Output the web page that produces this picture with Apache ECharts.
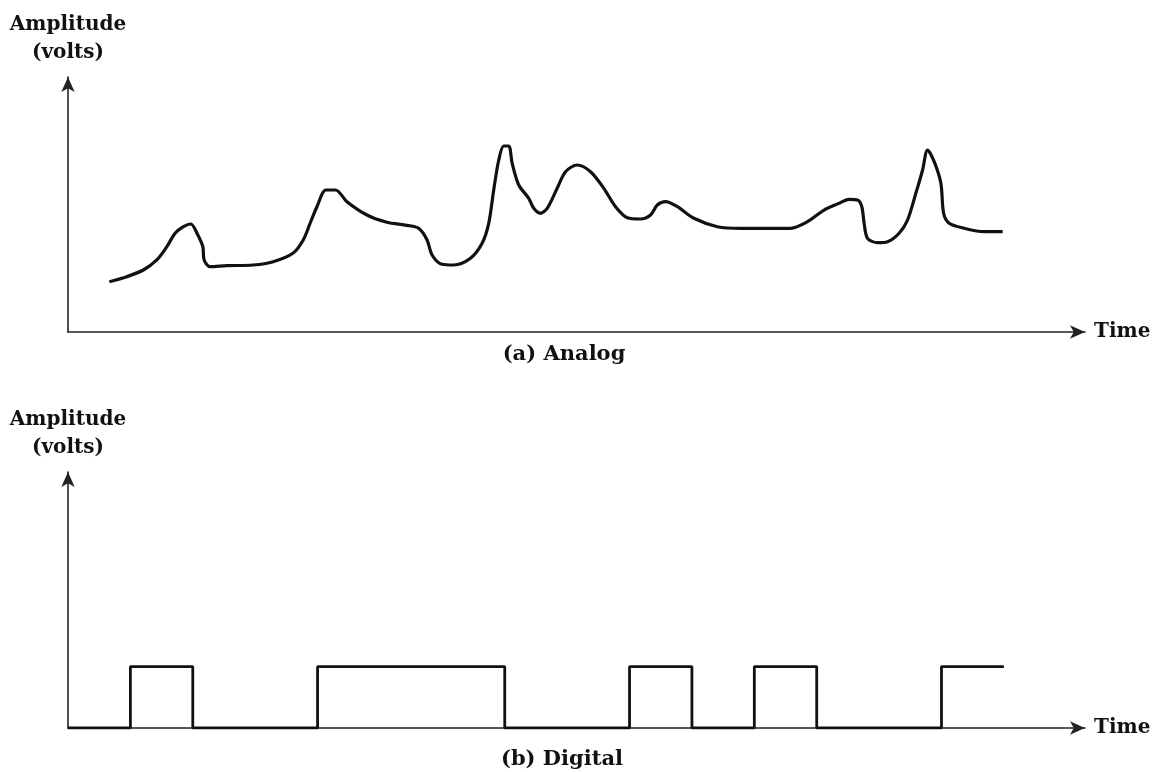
<!DOCTYPE html>
<html>
<head>
<meta charset="utf-8">
<script src="https://cdn.jsdelivr.net/npm/echarts@6/dist/echarts.min.js"></script>
<style>
  html, body { margin: 0; padding: 0; background: #fff; }
  #chart { width: 1157px; height: 772px; }
</style>
</head>
<body>
<div id="chart"></div>
<script>
// Time in bit periods, amplitude in arbitrary volts (0..10 full axis)
const analogTime = [0.663,0.942,1.208,1.423,1.584,1.717,1.850,1.969,2.065,2.161,2.182,2.278,2.546,2.968,3.289,3.610,3.770,3.882,3.990,4.134,4.288,4.471,4.792,5.113,5.434,5.620,5.755,5.835,5.995,6.182,6.450,6.637,6.743,6.823,6.904,6.984,7.064,7.119,7.224,7.385,7.465,7.573,7.680,7.840,7.974,8.161,8.375,8.588,8.776,8.964,9.177,9.337,9.445,9.578,9.766,10.032,10.408,10.781,11.584,11.852,12.118,12.346,12.519,12.654,12.723,12.760,12.814,12.974,13.135,13.321,13.456,13.589,13.697,13.777,13.883,13.990,14.034,14.123,14.364,14.685,14.980];
const analogVolts = [1.973,2.169,2.431,2.824,3.345,3.871,4.129,4.235,3.882,3.345,2.824,2.561,2.600,2.627,2.757,3.098,3.608,4.275,4.914,5.569,5.569,5.110,4.588,4.302,4.184,4.067,3.608,3.020,2.655,2.627,2.890,3.478,4.263,5.569,6.745,7.294,7.294,6.616,5.765,5.243,4.851,4.655,4.851,5.635,6.286,6.549,6.286,5.635,4.914,4.482,4.431,4.588,4.980,5.110,4.914,4.459,4.129,4.067,4.067,4.325,4.784,5.035,5.204,5.176,4.914,4.263,3.675,3.502,3.541,3.871,4.392,5.439,6.353,7.137,6.678,5.831,4.655,4.263,4.067,3.933,3.933];
const digitalBits = [0,1,0,0,1,1,1,0,0,1,0,1,0,0,1];
const digitalHigh = 2.4;
const timeMax = 16.3;
const ampMax = 10;

const analogData = analogTime.map((t, i) => [t, analogVolts[i]]);
const digitalData = digitalBits.map((b, i) => [i, b * digitalHigh]);
digitalData.push([digitalBits.length, digitalBits[digitalBits.length - 1] * digitalHigh]);

const FONT = 'DejaVu Serif';
const nameStyle = { fontFamily: FONT, fontWeight: 'bold', fontSize: 20, color: '#111', lineHeight: 28, align: 'center' };
const axisLine = { show: true, lineStyle: { color: '#222', width: 1.6 }, symbol: ['none', 'arrow'], symbolSize: [10, 15] };

function xAx(gi) {
  return { type: 'value', gridIndex: gi, min: 0, max: timeMax, name: 'Time', nameLocation: 'end', nameGap: 9,
    nameTextStyle: { fontFamily: FONT, fontWeight: 'bold', fontSize: 20, color: '#111', align: 'left', verticalAlign: 'middle' },
    axisLine: axisLine, axisTick: { show: false }, axisLabel: { show: false }, splitLine: { show: false } };
}
function yAx(gi) {
  return { type: 'value', gridIndex: gi, min: 0, max: ampMax, name: 'Amplitude\n(volts)', nameLocation: 'end', nameGap: 10,
    nameTextStyle: nameStyle,
    axisLine: axisLine, axisTick: { show: false }, axisLabel: { show: false }, splitLine: { show: false } };
}

const chart = echarts.init(document.getElementById('chart'));
chart.setOption({
  backgroundColor: '#fff',
  animation: false,
  grid: [
    { left: 68, top: 77, width: 1017, height: 255 },
    { left: 68, top: 472, width: 1017, height: 256 }
  ],
  xAxis: [xAx(0), xAx(1)],
  yAxis: [yAx(0), yAx(1)],
  graphic: [
    { type: 'text', x: 564, y: 355, style: { text: '(a) Analog', font: 'bold 21px "DejaVu Serif"', fill: '#111', textAlign: 'center', textVerticalAlign: 'middle' } },
    { type: 'text', x: 562, y: 760, style: { text: '(b) Digital', font: 'bold 21px "DejaVu Serif"', fill: '#111', textAlign: 'center', textVerticalAlign: 'middle' } }
  ],
  series: [
    { name: 'Analog', type: 'line', xAxisIndex: 0, yAxisIndex: 0, data: analogData, smooth: 0.3, showSymbol: false,
      lineStyle: { color: '#111', width: 3.2 } },
    { name: 'Digital', type: 'line', xAxisIndex: 1, yAxisIndex: 1, data: digitalData, step: 'end', showSymbol: false,
      lineStyle: { color: '#111', width: 2.8 } }
  ]
});
</script>
</body>
</html>
